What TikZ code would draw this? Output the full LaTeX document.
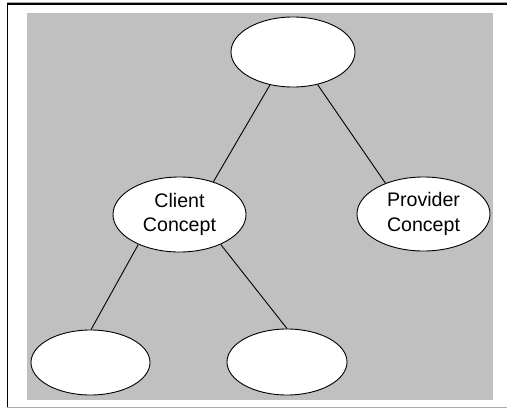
\documentclass[tikz,border=0pt]{standalone}
\usepackage{fontspec}
\setmainfont{Liberation Sans}
\usetikzlibrary{shapes.geometric}

\definecolor{panelgray}{RGB}{192,192,192}
\definecolor{edgegray}{RGB}{170,170,170}

\tikzset{
  concept/.style={ellipse, draw=black, fill=white, line width=0.9pt, inner sep=0pt,
    align=center, font=\fontsize{19.6}{24.5}\selectfont},
  link/.style={draw=black, line width=0.9pt}
}

\begin{document}
\begin{tikzpicture}[x=1pt, y=-1pt]
  \useasboundingbox (0,0) rectangle (507,408);
  \fill[white] (0,0) rectangle (507,408);

  % outer frame
  \draw[edgegray, line width=0.8pt] (7,2.6) -- (507,2.6);
  \draw[black, line width=1.4pt] (7.5,4) -- (507,4);
  \draw[black, line width=1.4pt] (7.5,3.3) -- (7.5,408);
  \draw[edgegray, line width=1pt] (7,407.2) -- (507,407.2);

  % gray panel
  \fill[panelgray] (27,13) rectangle (493,400);

  % concepts
  \node[concept, minimum width=124pt, minimum height=70pt] (root) at (293,52) {};
  \node[concept, minimum width=133pt, minimum height=75pt] (client) at (179.5,214.5) {Client\\Concept};
  \node[concept, minimum width=133pt, minimum height=74pt] (provider) at (423.5,214) {Provider\\Concept};
  \node[concept, minimum width=119pt, minimum height=65pt] (leafa) at (90.5,362.5) {};
  \node[concept, minimum width=120pt, minimum height=66pt] (leafb) at (287,362) {};

  % links
  \draw[link] (root.235) -- (client.44);
  \draw[link] (root.307) -- (provider.141);
  \draw[link] (client.216) -- (leafa.89);
  \draw[link] (client.324) -- (leafb.90);
\end{tikzpicture}
\end{document}
